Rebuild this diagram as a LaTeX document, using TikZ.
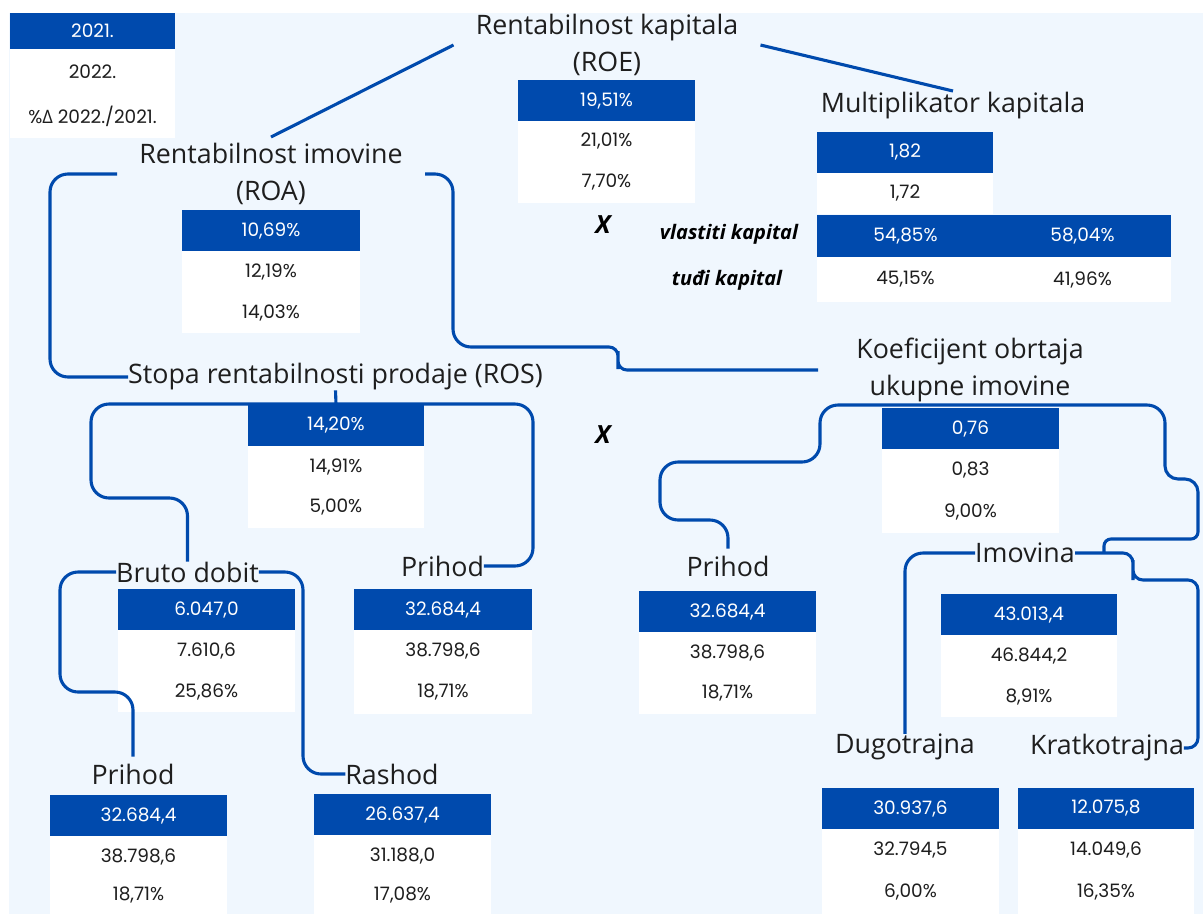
\documentclass[tikz,border=0pt]{standalone}
\usepackage{fontspec}
\setmainfont{Open Sans}
\newfontfamily\numf{Poppins}
\newfontfamily\deltaf{Open Sans}
\definecolor{myblue}{HTML}{004AAD}
\definecolor{bgblue}{HTML}{F0F7FE}
\definecolor{txt}{HTML}{1E1E1E}
\newcommand{\mtab}[8]{%
 \node[cb,minimum width=#4pt,anchor=north west] (#1a) at (#2,#3) {#5};
 \node[cw,minimum width=#4pt,anchor=north] (#1b) at (#1a.south) {#6};
 \node[cw,minimum width=#4pt,minimum height=#8pt,anchor=north] (#1c) at (#1b.south) {#7};}
\begin{document}
\begin{tikzpicture}[x=1pt,y=-1pt,
  cb/.style={fill=myblue,text=white,minimum height=41pt,inner sep=0pt,outer sep=0pt,font=\numf\fontsize{18.5}{22}\selectfont},
  cw/.style={fill=white,text=txt,minimum height=41pt,inner sep=0pt,outer sep=0pt,font=\numf\fontsize{18.5}{22}\selectfont},
  lab/.style={inner sep=0pt,outer sep=0pt,text=txt,font=\fontsize{26.8}{37}\selectfont,align=center},
  conn/.style={draw=myblue,line width=3.1pt,rounded corners=18pt},
  bx/.style={font=\bfseries\itshape\fontsize{25}{28}\selectfont,text=black},
  bi/.style={font=\bfseries\itshape\fontsize{20}{22}\selectfont,text=black}
]
\useasboundingbox (0,0) rectangle (1203,914);
\fill[white] (0,0) rectangle (1203,914);
\fill[bgblue] (9,13) rectangle (1203,914);

% legend
\node[cb,minimum width=165pt,minimum height=36pt,anchor=north west] (lg1) at (10,13) {2021.};
\node[cw,minimum width=165pt,minimum height=46pt,anchor=north] (lg2) at (lg1.south) {2022.};
\node[cw,minimum width=165pt,minimum height=43pt,anchor=north] (lg3) at (lg2.south) {\%{\deltaf Δ} 2022./2021.};

% labels
\node[lab,minimum width=307pt] (roe) at (607,45) {Rentabilnost kapitala\\(ROE)};
\node[lab,minimum width=308pt,minimum height=74pt] (roa) at (271,174) {Rentabilnost imovine\\(ROA)};
\node[lab,minimum height=30pt] (mult) at (953,106) {Multiplikator kapitala};
\node[lab,minimum width=415pt] (ros) at (335.5,377) {Stopa rentabilnosti prodaje (ROS)};
\node[lab,minimum width=304pt] (koef) at (970,370) {Koeficijent obrtaja\\ukupne imovine};
\node[lab,minimum width=141pt] (bruto) at (187.5,572) {Bruto dobit};
\node[lab] (prihodm) at (442.5,566) {Prihod};
\node[lab] (prihodr) at (728,566) {Prihod};
\node[lab,minimum width=100pt] (imovina) at (1025,553) {Imovina};
\node[lab] (dugo) at (905,747) {Dugotrajna};
\node[lab] (krat) at (1107,748) {Kratkotrajna};
\node[lab] (prihodbl) at (133,774) {Prihod};
\node[lab] (rashod) at (392,774) {Rashod};

\node[bx] (x1) at (603,225) {X};
\node[bx] (x2) at (603,435) {X};
\node[bi] (vk) at (729,234) {vlastiti kapital};
\node[bi] (tk) at (727,280) {tuđi kapital};

% tables
\mtab{roet}{518}{80}{177}{19,51\%}{21,01\%}{7,70\%}{41}
\mtab{roat}{182}{210}{178}{10,69\%}{12,19\%}{14,03\%}{41}
\node[cb,minimum width=176pt,anchor=north west] (mka) at (817,132) {1,82};
\node[cw,minimum width=176pt,minimum height=41pt,anchor=north] (mkb) at (mka.south) {1,72};
\node[cb,minimum width=177pt,minimum height=42pt,anchor=north west] (vka) at (817,215) {54,85\%};
\node[cb,minimum width=177pt,minimum height=42pt,anchor=north west] (vkb) at (vka.north east) {58,04\%};
\node[cw,minimum width=177pt,minimum height=45pt,anchor=north] (tka) at (vka.south) {45,15\%};
\node[cw,minimum width=177pt,minimum height=45pt,anchor=north] (tkb) at (vkb.south) {41,96\%};
\mtab{rost}{248}{405}{176}{14,20\%}{14,91\%}{5,00\%}{41}
\mtab{brut}{118}{589}{177}{6.047,0}{7.610,6}{25,86\%}{41}
\mtab{pmt}{354}{589}{178}{32.684,4}{38.798,6}{18,71\%}{43}
\mtab{prt}{639}{591}{177}{32.684,4}{38.798,6}{18,71\%}{41}
\mtab{koet}{882}{408}{177}{0,76}{0,83}{9,00\%}{43}
\mtab{imt}{941}{594}{176}{43.013,4}{46.844,2}{8,91\%}{41}
\mtab{pblt}{50}{795}{177}{32.684,4}{38.798,6}{18,71\%}{37}
\mtab{rat}{314}{794}{177}{26.637,4}{31.188,0}{17,08\%}{38}
\mtab{dut}{822}{788}{177}{30.937,6}{32.794,5}{6,00\%}{44}
\mtab{krt}{1018}{788}{176}{12.075,8}{14.049,6}{16,35\%}{44}

% connectors
\coordinate (rosj) at (336,404);
\coordinate (imj) at (1104,553);
\draw[conn] (roe.west) -- (roa.north);
\draw[conn] (roe.east) -- (mult.north);
\draw[conn] (roa.west) -| (50,300) |- (ros.west);
\draw[conn] (roa.east) -| (453,300) |- (560,347) [rounded corners=9pt] -| (618,360) |- (koef.west);
\draw[conn] (ros.south) -- (rosj);
\draw[conn] (rosj) -| (91,498) -| (bruto.north);
\draw[conn] (rosj) -| (533,500) |- (prihodm.east);
\draw[conn] (bruto.west) -| (60,692) -| ([yshift=7pt]prihodbl.north);
\draw[conn] (bruto.east) -| (303,700) |- (rashod.west);
\draw[conn] ([yshift=7pt]prihodr.north) |- (660,520) |- (820,462) |- (1165,405) [rounded corners=13pt] |- (1198,479) [rounded corners=7pt] |- (1104,539) -- (imj);
\draw[conn,rounded corners=10pt] (imovina.east) -| (1133,570) |- (1198,580) |- (krat.east);
\draw[conn] (imovina.west) -| (dugo.north);
\end{tikzpicture}
\end{document}
